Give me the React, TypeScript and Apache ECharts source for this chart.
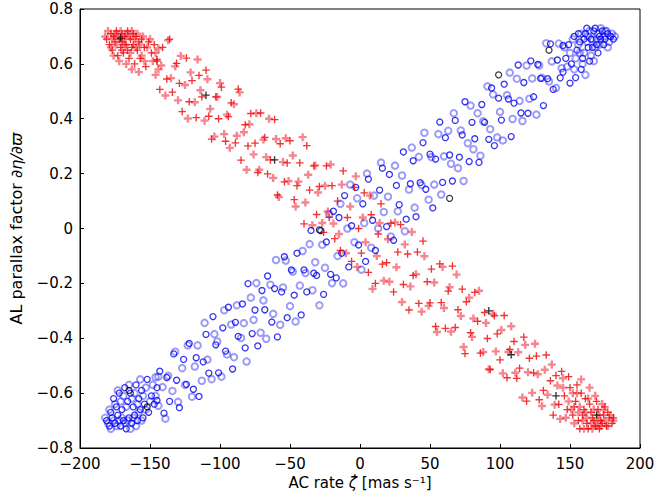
import React, { useEffect, useRef } from "react";
import * as echarts from "echarts";

const xTicks = [-200, 200, 50];
const yTicks = [-0.8, 0.8, 0.2];

const redSolid: number[][] = [
  [-181,0.69],[-178,0.71],[-176,0.70],[-174,0.72],[-172,0.69],[-170,0.71],[-168,0.70],[-166,0.72],[-164,0.69],[-162,0.71],[-160,0.70],[-158,0.68],[-179,0.67],[-175,0.68],[-171,0.66],[-167,0.67],[-163,0.66],[-159,0.65],[-156,0.69],[-154,0.66],[-151,0.68],[-149,0.64],[-177,0.65],[-173,0.63],[-169,0.64],[-165,0.62],[-161,0.60],[-157,0.62],[-153,0.59],[-147,0.67],[-145,0.61],[-170,0.68],[-166,0.65],[-162,0.67],
  [-145,0.616],[-143,0.507],[-141,0.660],[-138,0.545],[-136,0.690],[-134,0.497],[-131,0.602],[-129,0.529],[-127,0.426],[-124,0.621],[-122,0.462],[-120,0.539],[-117,0.404],[-115,0.558],[-113,0.480],[-110,0.577],[-108,0.409],[-106,0.326],[-103,0.480],[-101,0.400],[-99,0.515],[-96,0.318],[-94,0.408],[-92,0.458],[-89,0.312],[-87,0.508],[-85,0.249],[-82,0.378],[-80,0.301],[-78,0.419],[-75,0.311],[-73,0.204],[-71,0.421],[-68,0.332],[-66,0.199],[-64,0.250],[-61,0.397],[-59,0.122],[-57,0.309],[-54,0.170],[-52,0.239],[-50,0.320],[-47,0.105],[-45,0.156],[-43,0.239],[-40,0.017],[-38,0.302],[-36,0.140],[-33,0.228],[-31,0.051],[-29,0.153],[-26,-0.014],[-24,0.228],[-22,0.041],[-20,0.156],[-18,-0.037],
  [-16,0.10],[-14,-0.08],[-12,0.21],[-9,0.04],[-6,-0.12],[-4,0.15],[-1,0.00],[1,-0.09],[3,0.13],[6,-0.16],[8,0.05],[11,-0.20],[13,-0.02],[15,0.09],[16,-0.13],
  [19,-0.125],[22,0.019],[24,-0.231],[27,-0.086],[29,0.014],[31,-0.204],[34,-0.093],[35,-0.297],[38,-0.171],[41,-0.086],[42,-0.273],[45,-0.046],[48,-0.194],[50,-0.271],[51,-0.148],[54,-0.357],[57,-0.129],[58,-0.270],[61,-0.364],[63,-0.228],[66,-0.137],[68,-0.361],[70,-0.296],[73,-0.221],[75,-0.456],[76,-0.267],[79,-0.380],[82,-0.233],[84,-0.338],[86,-0.454],[89,-0.306],[91,-0.401],[93,-0.514],[96,-0.318],[98,-0.384],[100,-0.479],[103,-0.317],[105,-0.544],[107,-0.441],[110,-0.412],[112,-0.546],[114,-0.509],[117,-0.396],[119,-0.629],[121,-0.473],[124,-0.526],[126,-0.465],[128,-0.624],[131,-0.590],[133,-0.461],[136,-0.555],[138,-0.680],[140,-0.536],[142,-0.641],[144,-0.521],
  [146,-0.61],[148,-0.66],[150,-0.58],[152,-0.68],[154,-0.63],[156,-0.70],[158,-0.60],[160,-0.66],[162,-0.71],[164,-0.64],[166,-0.69],[168,-0.72],[170,-0.66],[172,-0.70],[174,-0.68],[176,-0.72],[178,-0.69],[180,-0.71],[157,-0.73],[163,-0.73],[169,-0.63],[175,-0.65],[171,-0.73],[159,-0.68],[165,-0.67],[161,-0.62],[153,-0.65],[167,-0.70],[173,-0.71],[177,-0.67],[181,-0.69],[155,-0.57],[149,-0.54]
];

const redFaint: number[][] = [
  [-182,0.70],[-180,0.72],[-177,0.69],[-175,0.71],[-173,0.70],[-171,0.72],[-169,0.69],[-167,0.71],[-165,0.70],[-163,0.72],[-161,0.69],[-159,0.71],[-157,0.67],[-155,0.70],[-178,0.66],[-174,0.67],[-170,0.65],[-168,0.67],[-164,0.64],[-160,0.66],[-156,0.63],[-152,0.66],[-150,0.69],[-148,0.61],[-176,0.63],[-172,0.61],[-167,0.60],[-163,0.58],[-158,0.57],[-154,0.61],[-146,0.64],[-144,0.58],
  [-146,0.560],[-144,0.656],[-142,0.594],[-139,0.485],[-137,0.686],[-135,0.548],[-132,0.591],[-130,0.467],[-128,0.629],[-125,0.523],[-123,0.401],[-121,0.569],[-118,0.460],[-116,0.616],[-114,0.504],[-111,0.393],[-109,0.544],[-107,0.436],[-104,0.335],[-102,0.479],[-100,0.530],[-97,0.344],[-95,0.415],[-93,0.294],[-90,0.453],[-88,0.338],[-86,0.496],[-83,0.351],[-81,0.214],[-79,0.380],[-76,0.270],[-74,0.420],[-72,0.214],[-69,0.324],[-67,0.260],[-65,0.400],[-62,0.184],[-60,0.326],[-58,0.115],[-55,0.242],[-53,0.329],[-51,0.173],[-48,0.266],[-46,0.080],[-44,0.171],[-41,0.333],[-39,0.095],[-37,0.196],[-34,0.012],[-32,0.230],[-30,0.131],[-27,0.020],[-25,0.156],[-23,0.062],[-21,0.233],[-19,0.018],
  [-15,-0.02],[-13,0.16],[-10,-0.09],[-7,0.08],[-3,0.19],[-2,-0.14],[2,0.04],[4,-0.05],[7,0.12],[9,-0.22],[12,-0.10],[14,0.02],[17,-0.19],
  [20,-0.039],[21,-0.194],[25,0.022],[26,-0.141],[30,-0.268],[32,-0.058],[36,-0.211],[37,-0.013],[40,-0.167],[44,-0.303],[46,-0.101],[49,-0.282],[53,-0.197],[55,-0.377],[59,-0.140],[60,-0.290],[64,-0.214],[65,-0.376],[69,-0.168],[72,-0.319],[74,-0.432],[78,-0.252],[80,-0.395],[81,-0.328],[85,-0.227],[88,-0.450],[90,-0.344],[92,-0.513],[95,-0.311],[97,-0.448],[101,-0.370],[102,-0.528],[106,-0.450],[108,-0.356],[111,-0.526],[113,-0.451],[116,-0.616],[118,-0.424],[120,-0.524],[123,-0.599],[125,-0.420],[127,-0.531],[130,-0.647],[132,-0.515],[134,-0.606],[137,-0.496],[139,-0.642],[141,-0.572],[143,-0.694],[145,-0.546],
  [145,-0.58],[147,-0.69],[149,-0.63],[151,-0.66],[153,-0.71],[155,-0.60],[157,-0.65],[159,-0.70],[161,-0.67],[163,-0.62],[165,-0.71],[167,-0.66],[169,-0.72],[171,-0.68],[173,-0.64],[175,-0.70],[177,-0.72],[179,-0.68],[181,-0.70],[160,-0.73],[166,-0.73],[172,-0.72],[168,-0.61],[174,-0.66],[162,-0.69],[156,-0.67],[158,-0.55],[152,-0.60],[164,-0.58],[170,-0.70]
];

const blueSolid: number[][] = [
  [-181,-0.70],[-179,-0.72],[-177,-0.69],[-175,-0.71],[-173,-0.68],[-171,-0.72],[-169,-0.70],[-167,-0.73],[-165,-0.69],[-163,-0.71],[-161,-0.68],[-159,-0.70],[-157,-0.66],[-155,-0.69],[-178,-0.67],[-174,-0.65],[-170,-0.66],[-166,-0.63],[-162,-0.65],[-158,-0.62],[-154,-0.64],[-151,-0.67],[-149,-0.61],[-176,-0.62],[-172,-0.60],[-168,-0.58],[-164,-0.60],[-160,-0.57],[-156,-0.59],[-152,-0.55],[-147,-0.64],[-145,-0.58],
  [-145,-0.627],[-143,-0.520],[-140,-0.673],[-138,-0.543],[-136,-0.630],[-133,-0.457],[-131,-0.553],[-129,-0.653],[-126,-0.477],[-124,-0.568],[-122,-0.419],[-119,-0.586],[-117,-0.471],[-115,-0.612],[-112,-0.486],[-110,-0.386],[-108,-0.527],[-105,-0.321],[-103,-0.424],[-101,-0.526],[-98,-0.362],[-96,-0.447],[-94,-0.287],[-91,-0.512],[-89,-0.342],[-87,-0.393],[-84,-0.275],[-82,-0.435],[-80,-0.201],[-77,-0.383],[-75,-0.297],[-73,-0.428],[-70,-0.226],[-68,-0.296],[-66,-0.173],[-63,-0.341],[-61,-0.219],[-59,-0.395],[-56,-0.231],[-54,-0.103],[-52,-0.325],[-49,-0.151],[-47,-0.243],[-45,-0.090],[-42,-0.315],[-40,-0.151],[-38,-0.231],[-35,-0.007],[-33,-0.163],[-31,-0.171],[-28,-0.008],[-26,-0.240],[-24,-0.049],[-21,-0.167],[-19,0.063],
  [-17,-0.18],[-15,0.04],[-13,-0.09],[-11,0.12],[-8,-0.14],[-6,0.01],[-3,0.15],[-1,-0.06],[2,0.09],[4,-0.12],[6,0.18],[9,0.03],[11,-0.08],[14,0.14],[16,0.22],
  [19,0.007],[21,0.197],[24,-0.043],[26,0.157],[28,0.087],[31,0.279],[33,0.034],[36,0.163],[38,0.247],[40,0.043],[43,0.167],[45,0.313],[47,0.143],[50,0.271],[52,0.075],[54,0.253],[57,0.388],[59,0.168],[61,0.331],[64,0.268],[66,0.173],[68,0.394],[71,0.260],[73,0.341],[75,0.462],[78,0.244],[80,0.387],[82,0.327],[85,0.241],[87,0.452],[89,0.387],[92,0.325],[94,0.512],[96,0.302],[99,0.475],[101,0.395],[103,0.526],[106,0.472],[108,0.335],[110,0.457],[113,0.596],[115,0.421],[117,0.532],[120,0.420],[122,0.611],[124,0.480],[127,0.598],[129,0.547],[131,0.448],[134,0.546],[136,0.673],[138,0.507],[141,0.614],[143,0.549],[145,0.667],
  [145,0.57],[147,0.62],[149,0.67],[151,0.60],[153,0.70],[155,0.65],[157,0.68],[159,0.62],[161,0.71],[163,0.66],[165,0.69],[167,0.72],[169,0.67],[171,0.70],[173,0.72],[175,0.69],[177,0.71],[179,0.70],[181,0.69],[162,0.73],[168,0.73],[174,0.67],[158,0.58],[164,0.61],[170,0.64],[154,0.55],[166,0.66],[172,0.69],[160,0.69],[156,0.71],[150,0.53]
];

const blueFaint: number[][] = [
  [-182,-0.69],[-180,-0.71],[-178,-0.73],[-176,-0.70],[-174,-0.72],[-172,-0.70],[-170,-0.69],[-168,-0.71],[-166,-0.70],[-164,-0.73],[-162,-0.69],[-160,-0.72],[-158,-0.67],[-156,-0.70],[-153,-0.66],[-179,-0.66],[-175,-0.64],[-171,-0.63],[-167,-0.65],[-163,-0.62],[-159,-0.64],[-155,-0.61],[-150,-0.63],[-148,-0.57],[-173,-0.59],[-169,-0.61],[-165,-0.57],[-161,-0.60],[-157,-0.55],[-153,-0.58],[-146,-0.61],[-144,-0.54],
  [-146,-0.542],[-144,-0.646],[-141,-0.578],[-139,-0.693],[-137,-0.537],[-134,-0.592],[-132,-0.449],[-130,-0.632],[-127,-0.509],[-125,-0.570],[-123,-0.426],[-120,-0.613],[-118,-0.503],[-116,-0.426],[-113,-0.555],[-111,-0.344],[-109,-0.478],[-106,-0.549],[-104,-0.385],[-102,-0.412],[-99,-0.540],[-97,-0.298],[-95,-0.459],[-92,-0.350],[-90,-0.469],[-88,-0.280],[-85,-0.399],[-83,-0.345],[-81,-0.485],[-78,-0.252],[-76,-0.333],[-74,-0.199],[-71,-0.380],[-69,-0.262],[-67,-0.402],[-64,-0.205],[-62,-0.311],[-60,-0.115],[-57,-0.351],[-55,-0.215],[-53,-0.117],[-50,-0.283],[-48,-0.157],[-46,-0.339],[-43,-0.208],[-41,-0.082],[-39,-0.162],[-36,-0.057],[-34,-0.225],[-32,-0.123],[-29,-0.280],[-27,-0.059],[-25,-0.143],[-22,0.052],[-20,-0.199],
  [-16,-0.10],[-14,0.09],[-12,-0.20],[-9,0.00],[-7,0.16],[-4,-0.05],[-2,0.11],[1,-0.15],[3,0.02],[5,0.20],[8,-0.07],[10,0.12],[13,0.00],[15,0.24],[17,0.06],
  [20,0.116],[22,-0.029],[25,0.229],[27,0.063],[30,0.193],[32,-0.010],[35,0.142],[37,0.295],[39,0.076],[42,0.261],[44,0.158],[46,0.349],[49,0.105],[51,0.260],[53,0.160],[56,0.344],[58,0.124],[60,0.263],[63,0.356],[65,0.236],[67,0.420],[70,0.220],[72,0.357],[74,0.173],[77,0.311],[79,0.448],[81,0.289],[84,0.420],[86,0.265],[88,0.391],[91,0.518],[93,0.362],[95,0.489],[98,0.332],[100,0.425],[102,0.321],[105,0.486],[107,0.568],[109,0.399],[112,0.546],[114,0.465],[116,0.392],[119,0.594],[121,0.473],[123,0.547],[126,0.415],[128,0.594],[130,0.549],[133,0.675],[135,0.536],[137,0.609],[140,0.512],[142,0.674],[144,0.584],
  [146,0.66],[148,0.59],[150,0.64],[152,0.69],[154,0.62],[156,0.67],[158,0.71],[160,0.64],[162,0.68],[164,0.72],[166,0.69],[168,0.66],[170,0.71],[172,0.73],[174,0.70],[176,0.72],[178,0.68],[180,0.71],[182,0.70],[159,0.60],[165,0.63],[171,0.67],[177,0.66],[153,0.58],[161,0.56],[167,0.61],[157,0.64],[163,0.70],[169,0.69],[175,0.72]
];

const blackPlus: number[][] = [
  [-171,0.694],[-110,0.486],[-61,0.25],[92,-0.30],[140,-0.61],[169,-0.68],[108,-0.46]
];
const blackCircle: number[][] = [
  [135,0.65],[99,0.56],[-152,-0.65],[-165,-0.59],[64,0.11],[-29,-0.005]
];

const PLUS = "path://M4.1,0H5.9V4.1H10V5.9H5.9V10H4.1V5.9H0V4.1H4.1Z";
const PLUS_FAINT = "path://M3.5,0H6.5V3.5H10V6.5H6.5V10H3.5V6.5H0V3.5H3.5Z";
const FONT = "DejaVu Sans";

function fmtMinus(v: number, dec: number): string {
  const r = Math.round(v * 1000) / 1000;
  if (r === 0) return "0";
  const s = dec > 0 ? r.toFixed(dec) : String(r);
  return s.replace("-", "\u2212");
}

export default function App() {
  const ref = useRef<HTMLDivElement>(null);
  useEffect(() => {
    if (!ref.current) return;
    const chart = echarts.init(ref.current, undefined, { renderer: "svg" });
    chart.setOption({
      animation: false,
      backgroundColor: "#ffffff",
      grid: {
        left: 72, right: 24, top: 9, bottom: 55,
        show: true, borderColor: "#000", borderWidth: 1, backgroundColor: "transparent"
      },
      xAxis: {
        type: "value",
        min: xTicks[0], max: xTicks[1], interval: xTicks[2],
        name: "{a|AC rate }{b|\u03B6\u0307}{a| [mas s\u207B\u00B9]}",
        nameLocation: "middle",
        nameGap: 26,
        nameTextStyle: {
          rich: {
            a: { fontFamily: FONT, fontSize: 15, color: "#000" },
            b: { fontFamily: FONT, fontSize: 15, color: "#000", fontStyle: "italic" }
          }
        },
        axisLine: { show: true, onZero: false, lineStyle: { color: "#000", width: 1 } },
        axisTick: { show: true, inside: true, length: 4, lineStyle: { color: "#000" } },
        splitLine: { show: false },
        axisLabel: {
          fontFamily: FONT, fontSize: 15, color: "#000", margin: 8,
          formatter: (v: number) => fmtMinus(v, 0)
        }
      },
      yAxis: {
        type: "value",
        min: yTicks[0], max: yTicks[1], interval: yTicks[2],
        name: "{a|AL parallax factor }{b|\u2202\u03B7/\u2202\u03D6}",
        nameLocation: "middle",
        nameGap: 56,
        nameTextStyle: {
          rich: {
            a: { fontFamily: FONT, fontSize: 16, color: "#000" },
            b: { fontFamily: FONT, fontSize: 16, color: "#000", fontStyle: "italic" }
          }
        },
        axisLine: { show: true, onZero: false, lineStyle: { color: "#000", width: 1 } },
        axisTick: { show: true, inside: true, length: 4, lineStyle: { color: "#000" } },
        splitLine: { show: false },
        axisLabel: {
          fontFamily: FONT, fontSize: 15, color: "#000", margin: 7,
          formatter: (v: number) => fmtMinus(v, 1)
        }
      },
      series: [
        {
          type: "scatter", data: blueFaint, symbol: "circle", symbolSize: 6.5,
          itemStyle: { color: "rgba(0,0,0,0)", borderColor: "rgba(30,30,240,0.55)", borderWidth: 2 }
        },
        {
          type: "scatter", data: redFaint, symbol: PLUS_FAINT, symbolSize: 8,
          itemStyle: { color: "rgba(235,0,20,0.6)" }
        },
        {
          type: "scatter", data: blueSolid, symbol: "circle", symbolSize: 6,
          itemStyle: { color: "rgba(0,0,0,0)", borderColor: "#0000ee", borderWidth: 1.3 }
        },
        {
          type: "scatter", data: redSolid, symbol: PLUS, symbolSize: 7.5,
          itemStyle: { color: "#ee0000" }
        },
        {
          type: "scatter", data: blackCircle, symbol: "circle", symbolSize: 6,
          itemStyle: { color: "rgba(0,0,0,0)", borderColor: "#000", borderWidth: 1.2 }
        },
        {
          type: "scatter", data: blackPlus, symbol: PLUS, symbolSize: 7.5,
          itemStyle: { color: "#000" }
        }
      ]
    });
    return () => chart.dispose();
  }, []);
  return (
    <div
      ref={ref}
      style={{ position: "absolute", left: 0, top: 0, width: 664, height: 503 }}
    />
  );
}
